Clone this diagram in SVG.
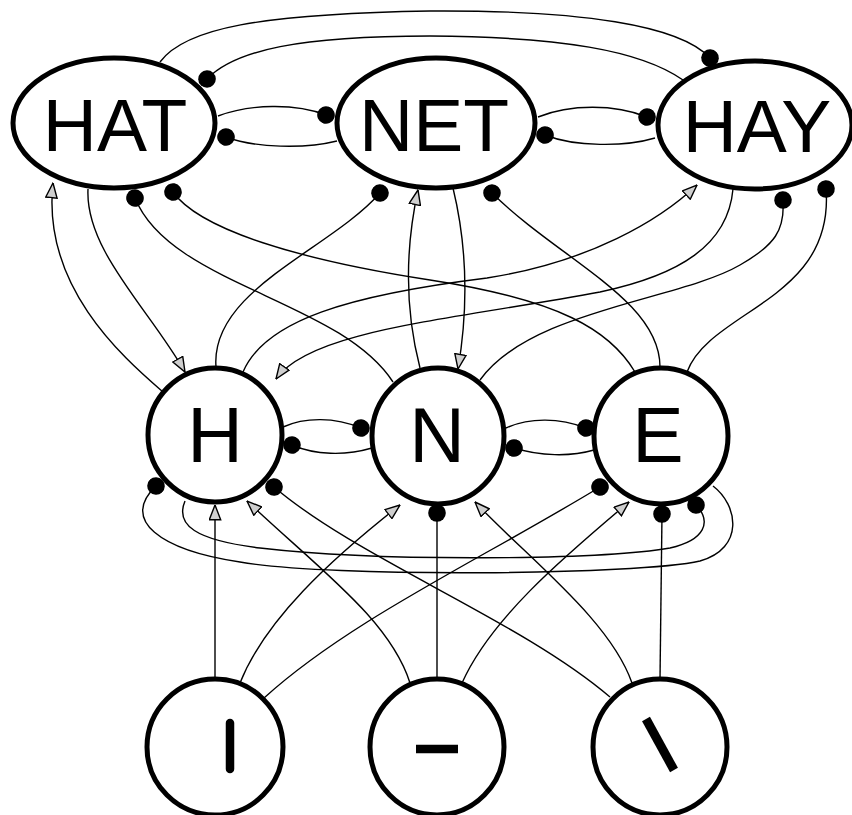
<svg xmlns="http://www.w3.org/2000/svg" width="852" height="815" viewBox="0 0 852 815">
<style>
.node{fill:#fff;stroke:#000;stroke-width:5}
.lbl{font-family:"Liberation Sans",Arial,Helvetica,sans-serif;fill:#000;text-anchor:middle}
.w{font-size:75px}
.l{font-size:77px}
.c{fill:none;stroke:#000;stroke-width:1.4}
.exc{marker-end:url(#arr)}
.inh{marker-end:url(#dot)}
.feat{stroke:#000;stroke-width:8.5;stroke-linecap:round}
</style>
<defs>
<marker id="arr" viewBox="0 0 16 13" refX="15.5" refY="6.5" markerWidth="16" markerHeight="13" markerUnits="userSpaceOnUse" orient="auto">
<path d="M0.8,0.8 L15.5,6.5 L0.8,12.2 Z" fill="#cfcfcf" stroke="#000" stroke-width="1.4"/>
</marker>
<marker id="dot" viewBox="0 0 18 18" refX="9" refY="9" markerWidth="18" markerHeight="18" markerUnits="userSpaceOnUse" orient="auto">
<circle cx="9" cy="9" r="8.8" fill="#000"/>
</marker>
</defs>
<g id="nodes">
<g id="HAT"><ellipse class="node" cx="114" cy="123" rx="101" ry="65"/><text class="lbl w" x="115" y="151">HAT</text></g>
<g id="NET"><ellipse class="node" cx="436" cy="123" rx="99" ry="65"/><text class="lbl w" x="434" y="151">NET</text></g>
<g id="HAY"><ellipse class="node" cx="755" cy="125" rx="97" ry="64"/><text class="lbl w" x="757" y="152">HAY</text></g>
<g id="H"><ellipse class="node" cx="215" cy="435" rx="67" ry="67"/><text class="lbl l" x="215" y="462">H</text></g>
<g id="N"><ellipse class="node" cx="438" cy="436" rx="66" ry="68"/><text class="lbl l" x="437" y="462">N</text></g>
<g id="E"><ellipse class="node" cx="661" cy="436" rx="67" ry="68"/><text class="lbl l" x="658" y="462">E</text></g>
<g id="F_vert"><ellipse class="node" cx="215" cy="747" rx="68" ry="68"/><line class="feat" x1="230" y1="723" x2="230" y2="769"/></g>
<g id="F_horiz"><ellipse class="node" cx="437" cy="747" rx="67" ry="68"/><line x1="416" y1="749" x2="458" y2="749" stroke="#000" stroke-width="8.5"/></g>
<g id="F_diag"><ellipse class="node" cx="660" cy="747" rx="67" ry="68"/><line x1="646" y1="719" x2="674" y2="770" stroke="#000" stroke-width="9"/></g>
</g>
<g id="connectors">
<!-- word to word -->
<path class="c inh" d="M218,116 C250,104 295,103 326,115"/>
<path class="c inh" d="M337,141 C305,149 255,148 226,137"/>
<path class="c inh" d="M538,117 C570,104 615,104 647,117"/>
<path class="c inh" d="M655,138 C625,147 575,147 545,135"/>
<path class="c inh" d="M160,62 C185,28 260,14 430,11 C580,10 680,25 710,58"/>
<path class="c inh" d="M683,80 C640,50 560,37 430,36 C300,36 235,50 207,79"/>
<!-- letter/word -->
<path class="c exc" d="M163,392 C120,355 42,285 53,183"/>
<path class="c exc" d="M88,189 C85,250 150,310 185,372"/>
<path class="c inh" d="M393,382 C340,300 170,285 135,198"/>
<path class="c inh" d="M635,372 C610,330 560,300 430,280 C300,260 200,230 173,192"/>
<path class="c inh" d="M216,367 C210,290 330,250 380,193"/>
<path class="c exc" d="M420,368 C405,310 405,250 418,190"/>
<path class="c exc" d="M453,188 C468,250 468,310 458,369"/>
<path class="c inh" d="M660,367 C660,300 560,260 492,193"/>
<path class="c exc" d="M243,372 C265,320 350,295 487,278 C590,262 660,220 697,185"/>
<path class="c exc" d="M733,189 C728,245 680,275 600,292 C450,320 310,330 276,379"/>
<path class="c inh" d="M480,380 C530,310 680,300 740,265 C775,245 785,230 783,200"/>
<path class="c inh" d="M687,372 C710,310 835,300 826,189"/>
<!-- letter to letter -->
<path class="c inh" d="M283,427 C305,417 335,417 361,428"/>
<path class="c inh" d="M372,448 C345,456 315,455 292,445"/>
<path class="c inh" d="M506,428 C530,417 560,418 586,428"/>
<path class="c inh" d="M594,450 C570,457 540,456 514,448"/>
<path class="c inh" d="M713,486 C738,505 745,548 700,561 C640,575 330,578 240,562 C160,550 120,520 156,486"/>
<path class="c inh" d="M185,501 C175,525 195,540 260,548 C380,562 600,560 670,548 C705,540 712,522 696,505"/>
<!-- feature to letter -->
<path class="c exc" d="M215,679 L215,505"/>
<path class="c exc" d="M240,683 C265,620 330,560 400,505"/>
<path class="c inh" d="M264,698 C350,620 480,560 600,487"/>
<path class="c exc" d="M410,683 C390,620 320,570 247,501"/>
<path class="c inh" d="M437,679 L437,513"/>
<path class="c exc" d="M462,683 C490,620 560,560 629,502"/>
<path class="c inh" d="M610,697 C520,620 360,560 274,487"/>
<path class="c exc" d="M632,683 C610,620 530,560 475,502"/>
<path class="c inh" d="M660,679 L662,514"/>
</g>
</svg>
